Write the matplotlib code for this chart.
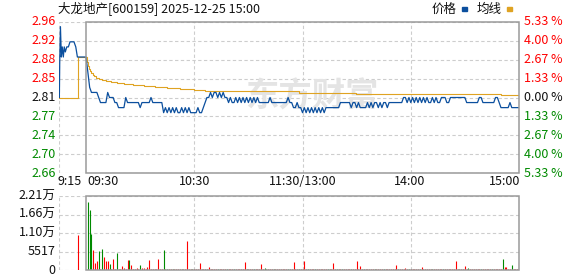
import matplotlib
matplotlib.use('Agg')
import matplotlib.pyplot as plt
from matplotlib.patches import Rectangle

plt.rcParams['font.family'] = ['Noto Sans CJK SC', 'DejaVu Sans']

W, H = 578, 276
title = '大龙地产[600159] 2025-12-25 15:00'
prev_close = 2.81
pct_max = 5.33

# pre-market auction (minutes relative to 09:30)
pre_t = [-14.8, -14.6, -14.2, -13.7, -13.2, -12.6, -12.1, -11.5, -10.7, -9.8, -8.9, -7.6, -6.7, -5.7, -4.8]
pre_p = [2.81, 2.88, 2.95, 2.89, 2.91, 2.89, 2.91, 2.90, 2.91, 2.91, 2.92, 2.92, 2.92, 2.91, 2.89]

# per-minute price, 09:30 .. 15:00 (241 points)
price = [
    2.89, 2.86, 2.83, 2.82, 2.82, 2.82, 2.82, 2.81, 2.80, 2.80,
    2.80, 2.80, 2.82, 2.81, 2.81, 2.81, 2.80, 2.80, 2.79, 2.79,
    2.79, 2.79, 2.81, 2.80, 2.80, 2.80, 2.80, 2.80, 2.80, 2.80,
    2.79, 2.80, 2.80, 2.80, 2.80, 2.80, 2.81, 2.80, 2.80, 2.80,
    2.80, 2.80, 2.80, 2.78, 2.79, 2.78, 2.79, 2.78, 2.79, 2.78,
    2.79, 2.78, 2.78, 2.79, 2.78, 2.79, 2.78, 2.79, 2.78, 2.78,
    2.78, 2.78, 2.79, 2.78, 2.78, 2.79, 2.80, 2.81, 2.81, 2.82,
    2.81, 2.82, 2.82, 2.81, 2.82, 2.81, 2.82, 2.81, 2.81, 2.80,
    2.81, 2.80, 2.80, 2.81, 2.80, 2.81, 2.80, 2.81, 2.80, 2.81,
    2.80, 2.81, 2.80, 2.81, 2.80, 2.81, 2.80, 2.80, 2.80, 2.80,
    2.80, 2.80, 2.81, 2.80, 2.80, 2.80, 2.80, 2.80, 2.80, 2.80,
    2.80, 2.80, 2.81, 2.80, 2.80, 2.79, 2.79, 2.80, 2.79, 2.79,
    2.78, 2.79, 2.78, 2.79, 2.78, 2.79, 2.78, 2.79, 2.78, 2.79,
    2.78, 2.79, 2.78, 2.79, 2.79, 2.79, 2.79, 2.79, 2.79, 2.79,
    2.79, 2.80, 2.80, 2.80, 2.80, 2.80, 2.80, 2.79, 2.80, 2.80,
    2.79, 2.80, 2.79, 2.79, 2.79, 2.79, 2.80, 2.79, 2.80, 2.79,
    2.80, 2.80, 2.79, 2.80, 2.79, 2.80, 2.80, 2.79, 2.80, 2.80,
    2.80, 2.80, 2.80, 2.80, 2.80, 2.80, 2.81, 2.81, 2.80, 2.81,
    2.80, 2.81, 2.80, 2.81, 2.80, 2.81, 2.80, 2.81, 2.80, 2.81,
    2.80, 2.80, 2.81, 2.80, 2.81, 2.80, 2.80, 2.81, 2.81, 2.81,
    2.80, 2.80, 2.81, 2.81, 2.81, 2.81, 2.81, 2.81, 2.81, 2.81,
    2.81, 2.80, 2.80, 2.80, 2.80, 2.80, 2.80, 2.80, 2.81, 2.81,
    2.80, 2.80, 2.80, 2.80, 2.80, 2.80, 2.80, 2.81, 2.81, 2.80,
    2.79, 2.79, 2.79, 2.79, 2.79, 2.80, 2.79, 2.79, 2.79, 2.79,
    2.79,
]

# average price line (step points)
avg_t = [-14.8, -4.6, 0.5, 1.0, 1.5, 2.0, 2.8, 3.6, 4.6, 5.6, 7, 9, 11, 14, 17, 21,
         26, 32, 38, 45, 52, 60, 66, 118, 149.4, 230, 240]
avg_v = [2.810, 2.890, 2.880, 2.872, 2.866, 2.862, 2.858, 2.855, 2.852, 2.849, 2.846,
         2.844, 2.842, 2.840, 2.838, 2.836, 2.834, 2.832, 2.830, 2.828, 2.826, 2.824,
         2.822, 2.819, 2.817, 2.815, 2.815]

# pre-market volume bar
pre_vol_t = [-4.5]
pre_vol = [10480]

# per-minute volume 09:31 .. 15:00 (240 bars)
vol = [
    20460, 17960, 10780, 5990, 2200, 2790, 5690, 300, 6290, 3790,
    2700, 2700, 1800, 300, 3290, 400, 5090, 300, 300, 1200,
    600, 300, 2990, 2990, 1500, 300, 400, 500, 300, 1500,
    600, 600, 300, 900, 2990, 300, 300, 300, 300, 3290,
    300, 300, 5990, 300, 300, 200, 300, 300, 200, 300,
    300, 300, 200, 300, 300, 8780, 300, 300, 300, 200,
    300, 300, 2100, 300, 300, 300, 300, 900, 300, 300,
    300, 400, 300, 300, 300, 300, 200, 300, 300, 300,
    300, 300, 300, 300, 200, 300, 300, 2400, 300, 300,
    300, 300, 300, 300, 300, 300, 1800, 300, 600, 300,
    300, 300, 200, 300, 300, 300, 300, 300, 300, 300,
    300, 300, 300, 300, 2400, 300, 300, 300, 300, 300,
    2800, 300, 300, 300, 300, 300, 300, 300, 300, 300,
    300, 300, 300, 300, 300, 300, 2100, 300, 300, 300,
    300, 300, 300, 300, 300, 300, 300, 300, 300, 2700,
    300, 1200, 300, 300, 300, 300, 300, 300, 300, 300,
    300, 300, 300, 300, 300, 300, 300, 300, 300, 300,
    300, 1500, 300, 300, 300, 300, 600, 300, 300, 300,
    300, 300, 300, 300, 300, 900, 300, 300, 300, 300,
    300, 300, 300, 300, 300, 300, 300, 300, 300, 300,
    300, 300, 300, 300, 2700, 300, 300, 300, 300, 1200,
    300, 600, 300, 300, 300, 300, 300, 300, 300, 300,
    300, 300, 300, 300, 300, 300, 300, 300, 300, 300,
    3290, 900, 900, 300, 300, 1500, 300, 300, 300, 2400,
]
vol_dir = ('gggrrrgrgr' 'rrgrrrgrrr' 'rrrgrrrrrg' 'rrrrrrrrrr' 'rrgrgrrgrr' 'rrgrrrrrgr'
           'rrrrrgrrrr' 'rrgrrrrgrr' 'rgrrrrrrgr' 'rrgrrrrrgr' 'rrrgrrrrrr' 'rgrrrrrgrr'
           'rrgrrrgrrr' 'rrrgrrrrgr' 'rgrrrrgrrr' 'rrrgrrrrrg' 'rrrrgrrrrr' 'rrgrrrrrgr'
           'rrrrgrrrrr' 'rgrrrrrgrr' 'rrrrrrgrrr' 'rgrrrrrrgr' 'rrrrgrrrrr' 'grrrrgrrrr')

price_ticks = ['2.96', '2.92', '2.88', '2.85', '2.81', '2.77', '2.74', '2.70', '2.66']
pct_ticks = ['5.33 %', '4.00 %', '2.67 %', '1.33 %', '0.00 %', '1.33 %', '2.67 %', '4.00 %', '5.33 %']
vol_ticks = ['2.21万', '1.66万', '1.10万', '5517', '0']
x_labels = ['9:15', '09:30', '10:30', '11:30/13:00', '14:00', '15:00']
legend_labels = ['价格', '均线']

RED = '#ff0000'
GREEN = '#008a00'
BLUE = '#0b4f9e'
GOLD = '#dfa322'
GRID = '#cdcdcd'
FRAME = '#9a9a9a'
FS = 9

fig = plt.figure(figsize=(W / 100, H / 100), dpi=100)
fig.patch.set_facecolor('white')


def px(x, y):
    return x / W, 1 - y / H


def ftext(x, y, s, **kw):
    fx, fy = px(x, y)
    kw.setdefault('va', 'center')
    kw.setdefault('fontsize', FS)
    fig.text(fx, fy, s, **kw)


half = prev_close * pct_max / 100
ymin, ymax = prev_close - half, prev_close + half

# ---- price panel ----
ax = fig.add_axes([59 / W, 1 - 173.3 / H, 460 / W, 151.6 / H])
ax.set_xlim(-15, 240)
ax.set_ylim(ymin, ymax)
ax.set_axis_off()
dash = (0, (3, 2.2))
for i in range(9):
    lvl = ymax - i * (2 * half / 8)
    ax.plot([-15, 240], [lvl, lvl], color=GRID, lw=0.8, ls=dash, zorder=1)
for t in [-15, 60, 120, 180]:
    ax.plot([t, t], [ymin, ymax], color=GRID, lw=0.8, ls=dash, zorder=1)
ax.add_patch(Rectangle((0, ymin), 240, ymax - ymin, fill=False, ec=FRAME, lw=1.1,
                       zorder=6, clip_on=False))
ax.text(125, 2.811, '东方财富', ha='center', va='center', fontsize=24,
        fontweight='bold', color='#e4e4e4', zorder=2)
ax.plot(avg_t, avg_v, drawstyle='steps-post', color=GOLD, lw=0.8, zorder=3)
ax.plot(pre_t + list(range(len(price))), pre_p + price, color=BLUE, lw=0.9, zorder=4)

# ---- volume panel ----
vmax = 22068
axv = fig.add_axes([59 / W, 1 - 270 / H, 460 / W, 73.7 / H])
axv.set_xlim(-15, 240)
axv.set_ylim(0, vmax)
axv.set_axis_off()
for i in range(5):
    lvl = vmax - i * vmax / 4
    axv.plot([-15, 240], [lvl, lvl], color=GRID, lw=0.8, ls=dash, zorder=1)
for t in [-15, 60, 120, 180]:
    axv.plot([t, t], [0, vmax], color=GRID, lw=0.8, ls=dash, zorder=1)
axv.add_patch(Rectangle((0, 0), 240, vmax, fill=False, ec=FRAME, lw=1.1,
                        zorder=6, clip_on=False))
axv.vlines(pre_vol_t, 0, pre_vol, colors=RED, lw=0.8, zorder=3)
vt = list(range(1, len(vol) + 1))
vcol = [RED if d == 'r' else GREEN for d in vol_dir]
axv.vlines(vt, 0, vol, colors=vcol, lw=0.8, zorder=3)

# ---- texts ----
ftext(58, 9, title, ha='left', color='#111111')
ftext(431.5, 9.5, legend_labels[0], ha='left', color='#111111')
ftext(476.5, 9.5, legend_labels[1], ha='left', color='#111111')
for x0, c in [(462, BLUE), (507, GOLD)]:
    fx, fy = px(x0, 10.5)
    fig.patches.append(Rectangle((fx, fy), 5 / W, 3 / H, transform=fig.transFigure,
                                 color=c, figure=fig))

for i, (pl, pc) in enumerate(zip(price_ticks, pct_ticks)):
    y = 21.7 + i * 151.6 / 8
    c = RED if i < 4 else ('#111111' if i == 4 else GREEN)
    ftext(55.5, y, pl, ha='right', color=c)
    ftext(523.5, y, pc, ha='left', color=c)

for i, vl in enumerate(vol_ticks):
    y = 196.3 + i * 73.7 / 4
    ftext(55.5, y, vl, ha='right', color='#111111')

xl_pos = [(57, 'left'), (87, 'left'), (194.7, 'center'), (302.5, 'center'),
          (410, 'center'), (520.5, 'right')]
for lab, (x, ha) in zip(x_labels, xl_pos):
    ftext(x, 181.7, lab, ha=ha, color='#111111')

fig.savefig('out.png', dpi=100, facecolor='white')
